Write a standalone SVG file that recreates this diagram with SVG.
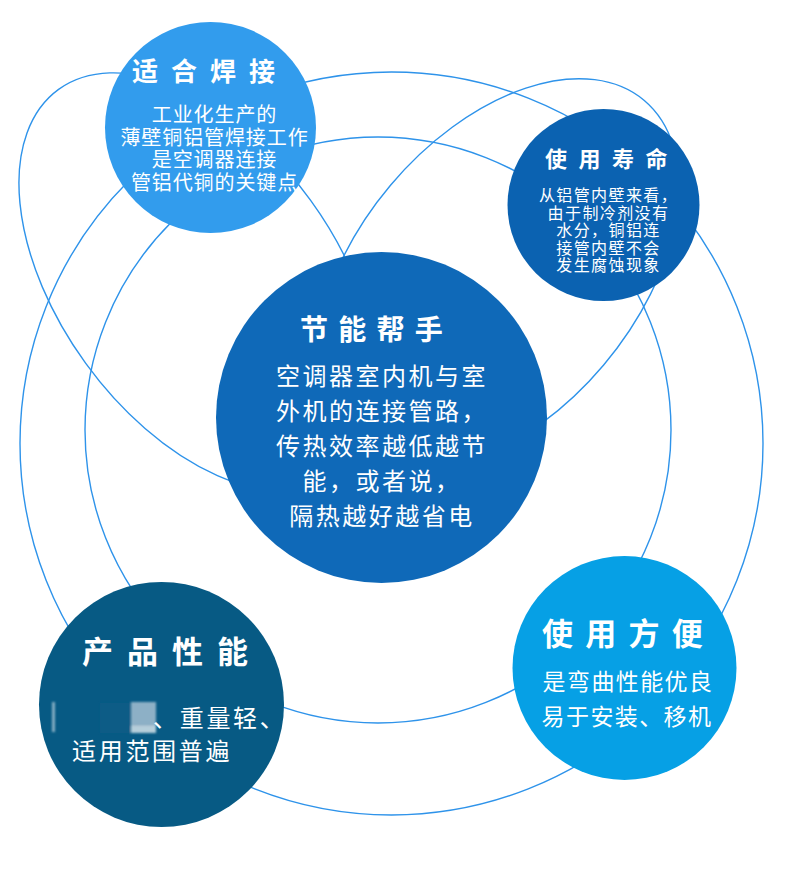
<svg xmlns="http://www.w3.org/2000/svg" width="790" height="871" viewBox="0 0 790 871">
<style>
.ring{fill:none;stroke:#2e93ea;stroke-width:1.4}
.t{font-family:"Noto Sans CJK SC","Noto Sans",sans-serif;fill:#ffffff;font-weight:bold;text-anchor:middle}
.b{font-family:"Noto Sans CJK SC","Noto Sans",sans-serif;fill:#ffffff;font-weight:normal}
.m{text-anchor:middle}
</style>
<defs>
<filter id="blur" x="-20%" y="-20%" width="140%" height="140%"><feGaussianBlur stdDeviation="1.2"/></filter>
</defs>
<rect width="790" height="871" fill="#ffffff"/>
<g id="connectors">
<circle class="ring" cx="391.5" cy="443.5" r="371.5"/>
<circle class="ring" cx="378" cy="430" r="293"/>
<ellipse class="ring" cx="198.2" cy="281.9" rx="237.8" ry="138.9" transform="rotate(54.05 198.2 281.9)"/>
<ellipse class="ring" cx="497.1" cy="275.1" rx="228.4" ry="139.4" transform="rotate(-49.87 497.1 275.1)"/>
</g>
<g id="node-welding">
<circle cx="210.5" cy="127.5" r="105.5" fill="#329ced"/>
<text class="t" x="210" y="81" font-size="26" letter-spacing="13">适合焊接</text>
<text class="b m" font-size="20" letter-spacing="0.9"><tspan x="214.5" y="122">工业化生产的</tspan><tspan x="214.5" y="144.5">薄壁铜铝管焊接工作</tspan><tspan x="214.5" y="167">是空调器连接</tspan><tspan x="214.5" y="189.5">管铝代铜的关键点</tspan></text>
</g>
<g id="node-life">
<circle cx="603.5" cy="205" r="96" fill="#0b62b1"/>
<text class="t" x="612" y="167" font-size="22" letter-spacing="11.5">使用寿命</text>
<text class="b m" font-size="16" letter-spacing="1.4"><tspan x="608.5" y="200.5">从铝管内壁来看，</tspan><tspan x="608.5" y="218.5">由于制冷剂没有</tspan><tspan x="608.5" y="236">水分，铜铝连</tspan><tspan x="608.5" y="253.5">接管内壁不会</tspan><tspan x="608.5" y="271">发生腐蚀现象</tspan></text>
</g>
<g id="node-energy">
<circle cx="381.5" cy="417.5" r="165.5" fill="#0f69b8"/>
<text class="t" x="376.5" y="339.5" font-size="28" letter-spacing="10.3">节能帮手</text>
<text class="b m" font-size="24" letter-spacing="2.5"><tspan x="382" y="385">空调器室内机与室</tspan><tspan x="382" y="420">外机的连接管路，</tspan><tspan x="382" y="455">传热效率越低越节</tspan><tspan x="382" y="490">能，或者说，</tspan><tspan x="382" y="525">隔热越好越省电</tspan></text>
</g>
<g id="node-performance">
<circle cx="161.5" cy="704.5" r="122.5" fill="#075a84"/>
<text class="t" x="172" y="662.5" font-size="31" letter-spacing="14">产品性能</text>
<g filter="url(#blur)">
<rect x="52" y="702" width="3" height="30" fill="#ffffff" opacity="0.5"/>
<rect x="100" y="703" width="30" height="30" fill="#0c5c86"/>
<rect x="131" y="702" width="25" height="24" fill="#8db0c6"/>
<rect x="131" y="726" width="25" height="7" fill="#ffffff" opacity="0.7"/>
</g>
<text class="b" font-size="24" letter-spacing="2.7"><tspan x="153" y="727">、重量轻、</tspan><tspan x="72" y="760">适用范围普遍</tspan></text>
</g>
<g id="node-convenience">
<circle cx="624.5" cy="668" r="112" fill="#06a0e5"/>
<text class="t" x="628.5" y="644.5" font-size="31" letter-spacing="12.3">使用方便</text>
<text class="b m" font-size="23" letter-spacing="1.4"><tspan x="628" y="690">是弯曲性能优良</tspan><tspan x="627" y="725">易于安装、移机</tspan></text>
</g>
</svg>
